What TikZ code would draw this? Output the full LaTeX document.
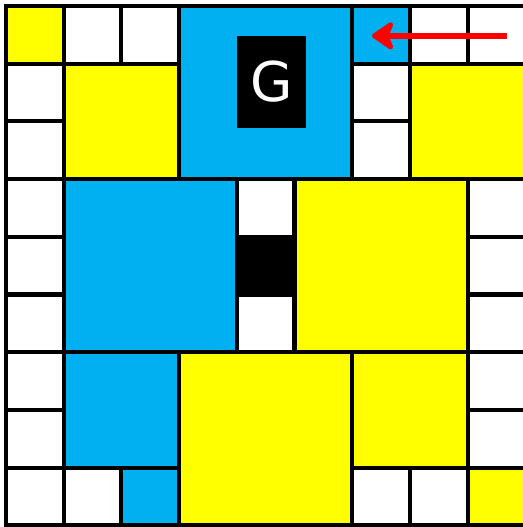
\documentclass[tikz,border=0pt]{standalone}
\usepackage{fontspec}
\newfontfamily\gfont{DejaVu Sans}
\usetikzlibrary{arrows.meta}
\definecolor{tileblue}{HTML}{00B0F0}
\definecolor{tileyellow}{HTML}{FFFF00}
\definecolor{arrowred}{HTML}{FF0000}
\tikzset{
  tile/.style={draw=black, line width=0.07cm},
  goal/.style={fill=black, text=white, minimum width=1.2cm, minimum height=1.6cm,
    inner sep=0pt, font=\gfont\fontsize{27}{32}\selectfont},
}

\begin{document}
\begin{tikzpicture}[x=1cm, y=-1cm]
  \useasboundingbox (-0.104,-0.104) rectangle (8.96,9.03);

  % Yellow squares (col/row/size)
  \foreach \c/\r/\s in {0/0/1, 1/1/2, 7/1/2, 5/3/3, 3/6/3, 6/6/2, 8/8/1} {
    \draw[tile, fill=tileyellow] (\c,\r) rectangle ++(\s,\s);
  }
  % Blue squares
  \foreach \c/\r/\s in {3/0/3, 6/0/1, 1/3/3, 1/6/2, 2/8/1} {
    \draw[tile, fill=tileblue] (\c,\r) rectangle ++(\s,\s);
  }
  % Empty cells
  \foreach \c/\r in {1/0, 2/0, 7/0, 8/0, 0/1, 0/2, 6/1, 6/2, 0/3, 0/4, 0/5,
      4/3, 4/5, 8/3, 8/4, 8/5, 0/6, 0/7, 0/8, 1/8, 6/8, 7/8, 8/6, 8/7} {
    \draw[tile, fill=white] (\c,\r) rectangle ++(1,1);
  }
  % Wall
  \draw[tile, fill=black] (4,4) rectangle ++(1,1);

  % Goal
  \node[goal] (goal) at (4.6,1.317) {G};

  % Agent move
  \coordinate (arrowstart) at (8.69,0.517);
  \coordinate (arrowend) at (6.343,0.517);
  \draw[-{Stealth[length=0.44cm, width=0.6cm, inset=0.12cm, round]}, line width=0.11cm, arrowred]
    (arrowstart) -- (arrowend);
\end{tikzpicture}
\end{document}
